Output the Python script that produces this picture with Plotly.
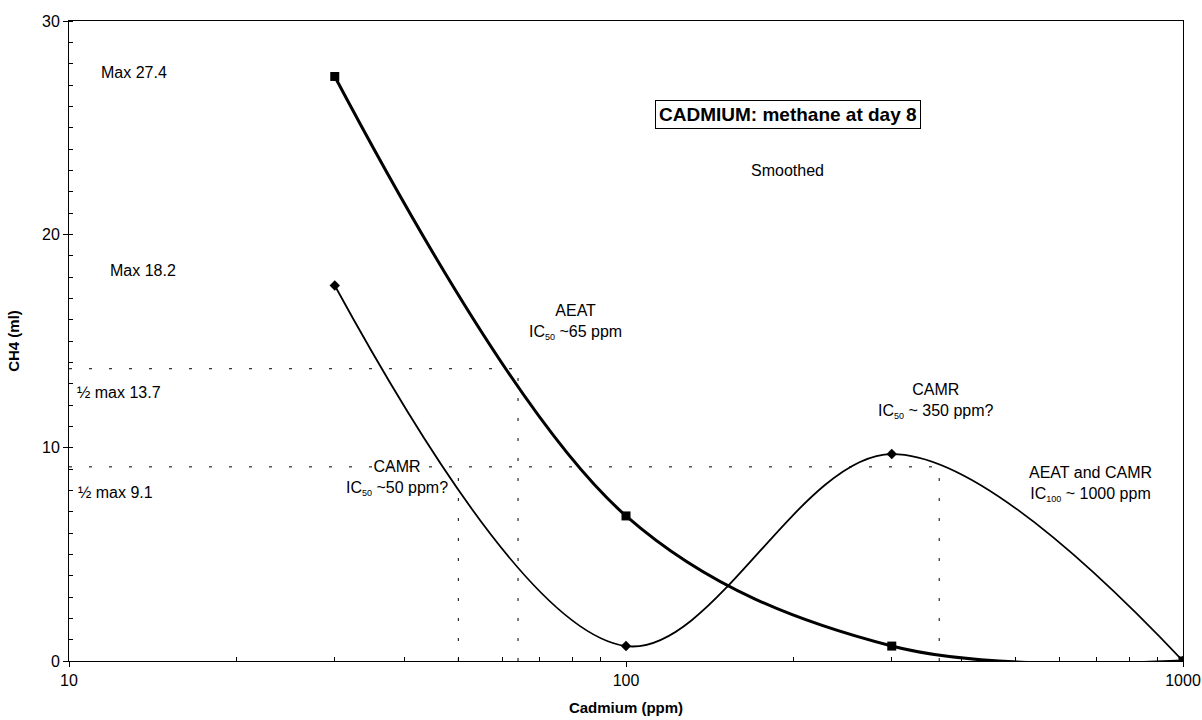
import math
import plotly.graph_objects as go

# Data
cadmium_ppm = [30, 100, 300, 1000]
aeat_ch4 = [27.4, 6.8, 0.7, 0.0]
camr_ch4 = [17.6, 0.7, 9.7, 0.0]

aeat_half_max = 13.7
camr_half_max = 9.1
aeat_ic50 = 64
camr_ic50_low = 50
camr_ic50_high = 365

x_ticks = [10, 100, 1000]
y_ticks = [0, 10, 20, 30]

FONT = "Liberation Sans, Arial, sans-serif"

fig = go.Figure()

dot = dict(color="black", width=1, dash="3px,17px")
# reference lines (dotted)
fig.add_trace(go.Scatter(x=[10, aeat_ic50], y=[aeat_half_max, aeat_half_max], mode="lines",
                         line=dot, hoverinfo="skip", showlegend=False))
fig.add_trace(go.Scatter(x=[aeat_ic50, aeat_ic50], y=[0, aeat_half_max], mode="lines",
                         line=dot, hoverinfo="skip", showlegend=False))
fig.add_trace(go.Scatter(x=[10, camr_ic50_high], y=[camr_half_max, camr_half_max], mode="lines",
                         line=dot, hoverinfo="skip", showlegend=False))
fig.add_trace(go.Scatter(x=[camr_ic50_low, camr_ic50_low], y=[0, camr_half_max], mode="lines",
                         line=dot, hoverinfo="skip", showlegend=False))
fig.add_trace(go.Scatter(x=[camr_ic50_high, camr_ic50_high], y=[0, camr_half_max], mode="lines",
                         line=dot, hoverinfo="skip", showlegend=False))

fig.add_trace(go.Scatter(
    x=cadmium_ppm, y=camr_ch4, name="CAMR", mode="lines+markers",
    line=dict(color="black", width=1.8, shape="spline", smoothing=1.0),
    marker=dict(symbol="diamond", size=8, color="black"),
    showlegend=False))
fig.add_trace(go.Scatter(
    x=cadmium_ppm, y=aeat_ch4, name="AEAT", mode="lines+markers",
    line=dict(color="black", width=3, shape="spline", smoothing=1.0),
    marker=dict(symbol="square", size=9, color="black"),
    showlegend=False))


def sub(t):
    return "IC<sub><span style='font-size:9px'>" + t + "</span></sub>"


ann_font = dict(family=FONT, size=16, color="black")
annotations = [
    dict(x=13.1, y=27.6, text="Max 27.4"),
    dict(x=13.6, y=18.3, text="Max 18.2"),
    dict(x=12.3, y=12.6, text="½ max 13.7"),
    dict(x=12.1, y=7.9, text="½ max 9.1"),
    dict(x=81, y=15.9, text="AEAT<br>" + sub("50") + " ~65 ppm"),
    dict(x=38.8, y=8.6, text="CAMR<br>" + sub("50") + " ~50 ppm?"),
    dict(x=195, y=23.0, text="Smoothed"),
    dict(x=360, y=12.2, text="CAMR<br>" + sub("50") + " ~ 350 ppm?"),
    dict(x=683, y=8.3, text="AEAT and CAMR<br>" + sub("100") + " ~ 1000 ppm"),
]
for a in annotations:
    fig.add_annotation(x=math.log10(a["x"]), y=a["y"], xref="x", yref="y", text=a["text"],
                       showarrow=False, font=ann_font, align="center")

fig.add_annotation(x=math.log10(195), y=25.6, xref="x", yref="y",
                   text="<b>CADMIUM: methane at day 8</b>", showarrow=False,
                   font=dict(family=FONT, size=19, color="black"),
                   bordercolor="black", borderwidth=1, borderpad=3, bgcolor="white")

fig.update_xaxes(
    type="log", range=[1, 3], tickvals=x_ticks, ticktext=[str(v) for v in x_ticks],
    ticks="outside", ticklen=5, tickcolor="black", showgrid=False, zeroline=False,
    showline=True, linecolor="black", linewidth=1, mirror=True, automargin=False,
    minor=dict(ticks="inside", ticklen=4, tickcolor="black", showgrid=False,
               tickvals=[20, 30, 40, 50, 60, 70, 80, 90, 200, 300, 400, 500, 600, 700, 800, 900]),
    tickfont=dict(family=FONT, size=16, color="black"),
    title=dict(text="<b>Cadmium (ppm)</b>", font=dict(family=FONT, size=15, color="black"), standoff=14),
)
fig.update_yaxes(
    range=[0, 30], tickvals=y_ticks, ticks="outside", ticklen=5, tickcolor="black",
    showgrid=False, zeroline=False, showline=True, linecolor="black", linewidth=1, mirror=True,
    automargin=False,
    minor=dict(ticks="inside", ticklen=4, tickcolor="black", dtick=1, showgrid=False),
    tickfont=dict(family=FONT, size=16, color="black"),
    title=dict(text="<b>CH4 (ml)</b>", font=dict(family=FONT, size=15, color="black"), standoff=18),
)

fig.update_layout(
    width=1202, height=720,
    margin=dict(l=69, r=19, t=21, b=59),
    paper_bgcolor="white", plot_bgcolor="white",
    font=dict(family=FONT, color="black"),
)

fig.write_html("out.html")
